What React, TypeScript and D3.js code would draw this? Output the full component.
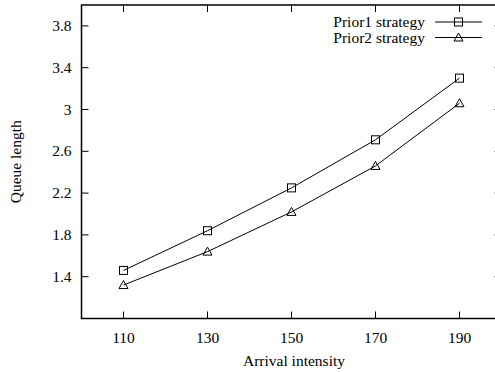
import React from "react";
import * as d3 from "d3";

const categories = [110, 130, 150, 170, 190];
const prior1 = [1.46, 1.84, 2.25, 2.71, 3.3];
const prior2 = [1.32, 1.64, 2.02, 2.46, 3.06];
const yTicks = [1.4, 1.8, 2.2, 2.6, 3.0, 3.4, 3.8];
const seriesNames = ["Prior1 strategy", "Prior2 strategy"];

const W = 495;
const H = 372;
const FONT = "Liberation Serif, Times New Roman, serif";
const FS = 15.5;

export default function App() {
  const x = d3.scaleLinear().domain([100, 200]).range([81.5, 501.5]);
  const y = d3.scaleLinear().domain([1.0, 4.0]).range([318.5, 5]);
  const line = d3
    .line<number>()
    .x((_, i) => x(categories[i]))
    .y((d) => y(d));
  const tick = 7;
  const x0 = x.range()[0];
  const x1 = x.range()[1];
  const yb = y.range()[0];
  const yt = y.range()[1];

  const square = (cx: number, cy: number, key: string) => (
    <rect key={key} x={cx - 4} y={cy - 4} width={8} height={8} fill="none" stroke="#000" strokeWidth={1} />
  );
  const tri = (cx: number, cy: number, key: string) => (
    <path
      key={key}
      d={`M${cx},${cy - 4.5}L${cx + 4.5},${cy + 3.5}L${cx - 4.5},${cy + 3.5}Z`}
      fill="none"
      stroke="#000"
      strokeWidth={1}
    />
  );

  return (
    <svg
      width={W}
      height={H}
      style={{ position: "absolute", left: 0, top: 0, background: "#fff", fontFamily: FONT }}
    >
      <rect x={0} y={0} width={W} height={H} fill="#fff" />
      {categories.map((c) => (
        <g key={"xt" + c}>
          <line x1={x(c)} x2={x(c)} y1={yb} y2={yb - tick} stroke="#000" strokeWidth={1} />
          <line x1={x(c)} x2={x(c)} y1={yt} y2={yt + tick} stroke="#000" strokeWidth={1} />
          <text x={x(c)} y={yb + 24} fontSize={FS} textAnchor="middle">
            {c}
          </text>
        </g>
      ))}
      {yTicks.map((t) => (
        <g key={"yt" + t}>
          <line x1={x0} x2={x0 + tick} y1={y(t)} y2={y(t)} stroke="#000" strokeWidth={1} />
          <line x1={x1} x2={x1 - tick} y1={y(t)} y2={y(t)} stroke="#000" strokeWidth={1} />
          <text x={x0 - 10} y={y(t) + 5} fontSize={FS} textAnchor="end">
            {d3.format("")(+t.toFixed(1))}
          </text>
        </g>
      ))}
      <rect x={x0} y={yt} width={x1 - x0} height={yb - yt} fill="none" stroke="#000" strokeWidth={1.5} />
      <path d={line(prior1) || ""} fill="none" stroke="#000" strokeWidth={1} />
      <path d={line(prior2) || ""} fill="none" stroke="#000" strokeWidth={1} />
      {prior1.map((v, i) => square(x(categories[i]), y(v), "s" + i))}
      {prior2.map((v, i) => tri(x(categories[i]), y(v), "t" + i))}
      {seriesNames.map((n, i) => {
        const ly = 22 + i * 15.5;
        return (
          <g key={n}>
            <text x={425} y={ly + 5} fontSize={FS} textAnchor="end">
              {n}
            </text>
            <line x1={435} x2={482} y1={ly} y2={ly} stroke="#000" strokeWidth={1} />
            {i === 0 ? square(458.5, ly, "ls") : tri(458.5, ly, "lt")}
          </g>
        );
      })}
      <text x={294} y={366} fontSize={FS} textAnchor="middle">
        Arrival intensity
      </text>
      <text
        transform={`translate(21,${(yb + yt) / 2}) rotate(-90)`}
        fontSize={FS}
        textAnchor="middle"
      >
        Queue length
      </text>
    </svg>
  );
}
